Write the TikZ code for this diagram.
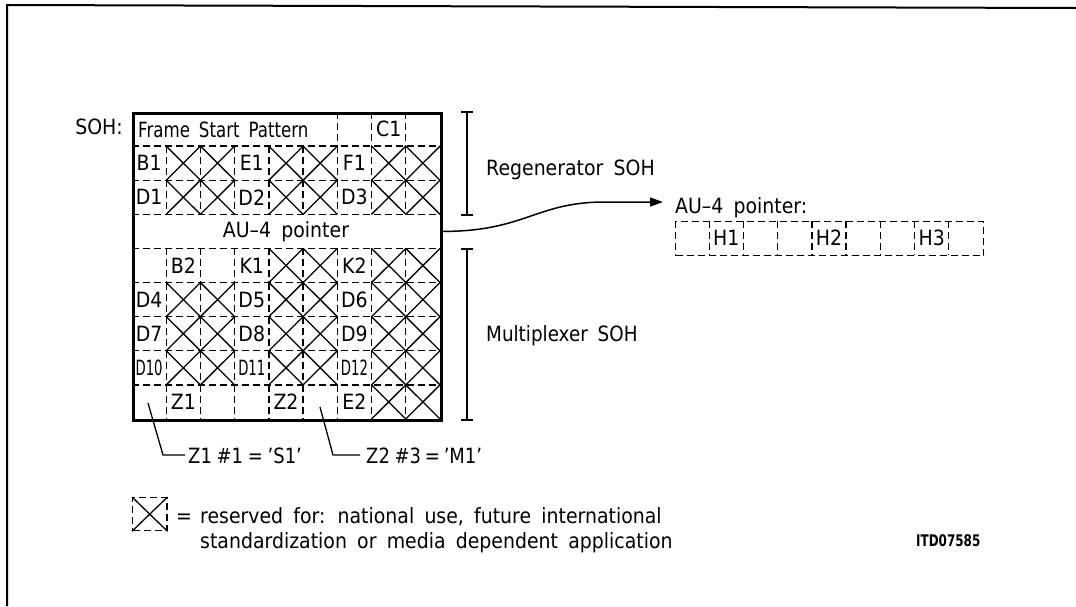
\documentclass[tikz,border=0pt]{standalone}
\usepackage{fontspec}
\setmainfont{DejaVu Sans}[WordSpace=1.7, FakeStretch=0.9]
\usetikzlibrary{arrows.meta}
\begin{document}
\begin{tikzpicture}[x=1pt,y=-1pt,
  txt/.style={font=\fontsize{21}{27}\selectfont, inner sep=0pt},
  dsh/.style={dash pattern=on 7pt off 4pt, line width=1.3pt},
  thinln/.style={line width=1.3pt},
  brk/.style={line width=1.5pt}]
\useasboundingbox (0,0) rectangle (1076,606);
% page frame
\draw[line width=2pt] (7,606) -- (7,5) -- (1076,8);

\def\gxx{132}\def\gyy{112}\def\cww{34.222}\def\rhh{34.111}
% dashed horizontals
\foreach \r in {1,...,8} \draw[dsh] (\gxx,{\gyy+\r*\rhh}) -- ({\gxx+9*\cww},{\gyy+\r*\rhh});
% dashed verticals
\foreach \r in {1,2,4,5,6,7,8} \foreach \c in {1,...,8}
  \draw[dsh] ({\gxx+\c*\cww},{\gyy+\r*\rhh}) -- ++(0,\rhh);
\foreach \c in {6,7,8} \draw[dsh] ({\gxx+\c*\cww},\gyy) -- ++(0,\rhh);
% reserved cells
\foreach \r in {1,2,5,6,7} \foreach \c in {1,2,4,5,7,8}
  \draw[thinln] ({\gxx+\c*\cww},{\gyy+\r*\rhh}) -- ++(\cww,\rhh) ++(-\cww,0) -- ++(\cww,-\rhh);
\foreach \c in {4,5,7,8}
  \draw[thinln] ({\gxx+\c*\cww},{\gyy+4*\rhh}) -- ++(\cww,\rhh) ++(-\cww,0) -- ++(\cww,-\rhh);
\foreach \c in {7,8}
  \draw[thinln] ({\gxx+\c*\cww},{\gyy+8*\rhh}) -- ++(\cww,\rhh) ++(-\cww,0) -- ++(\cww,-\rhh);
% outer frame
\node (frame) [draw, line width=2.8pt, minimum width=308pt, minimum height=307pt, inner sep=0pt, anchor=north west] at (\gxx,\gyy) {};
% AU-4 pointer row
\node (au4) [txt, minimum width=308pt, minimum height=34.1pt] at (286,231.4) {AU–4 pointer};
% cell labels
\foreach \r/\c/\t [count=\k] in {0/7/C1, 1/0/B1, 1/3/E1, 1/6/F1, 2/0/D1, 2/3/D2, 2/6/D3,
   4/1/B2, 4/3/K1, 4/6/K2, 5/0/D4, 5/3/D5, 5/6/D6, 6/0/D7, 6/3/D8, 6/6/D9,
   7/0/{\scalebox{0.7}[1]{D10}}, 7/3/{\scalebox{0.7}[1]{D11}}, 7/6/{\scalebox{0.7}[1]{D12}},
   8/1/Z1, 8/4/Z2, 8/6/E2}
  \node[txt] (cell\k) at ({\gxx+(\c+0.5)*\cww},{\gyy+(\r+0.5)*\rhh}) {\t};
\node[txt, anchor=base west] (fsp) at (138,137) {\scalebox{0.88}[1]{Frame Start Pattern}};
\node[txt, anchor=base east] (soh) at (123,134) {SOH:};

% brackets
\draw[brk] (461,112) -- (473,112) (467,112) -- (467,215) (461,215) -- (473,215);
\draw[brk] (461,249) -- (473,249) (467,249) -- (467,420) (461,420) -- (473,420);
\node[txt, anchor=base west] (regen) at (486,175) {Regenerator SOH};
\node[txt, anchor=base west] (mux) at (486,341) {\scalebox{0.97}[1]{Multiplexer SOH}};

% AU-4 pointer detail
\node[txt, anchor=base west] (aup) at (675,213) {AU–4 pointer:};
\coordinate (tip) at (663,202);
\draw[line width=1.5pt, -{Triangle[length=13pt,width=9pt]}] (au4.east) .. controls (525,232) and (535,202) .. (605,202) -- (tip);
\node (hrow) [draw, dsh, minimum width=308pt, minimum height=34pt, inner sep=0pt, anchor=north west] at (675,221) {};
\foreach \c in {1,...,8} \draw[dsh] ({675+\c*34.222},221) -- ++(0,34);
\foreach \c/\t in {1/H1, 4/H2, 7/H3}
  \node[txt] (h\c) at ({675+(\c+0.5)*34.222},238) {\t};

% leaders
\node[txt, anchor=base west] (n1) at (188,463) {\scalebox{0.95}[1]{Z1\hspace{5pt}\#1\hspace{5pt}=\hspace{5pt}'S1'}};
\coordinate (s1) at (148,403);
\draw[thinln] (s1) -- (163,455) -- ([xshift=-3pt]n1.west |- 0,455);
\node[txt, anchor=base west] (n2) at (366,463) {\scalebox{0.95}[1]{Z2\hspace{5pt}\#3\hspace{4pt}=\hspace{4pt}'M1'}};
\coordinate (s2) at (320,407);
\draw[thinln] (s2) -- (333,455) -- ([xshift=-6pt]n2.west |- 0,455);

% legend
\node (leg) [draw, dsh, minimum width=34.2pt, minimum height=33pt, inner sep=0pt, anchor=north west] at (132,497) {};
\draw[thinln] (leg.north west) -- (leg.south east) (leg.north east) -- (leg.south west);
\node[txt, anchor=base] (eq) at (184,523) {=};
\node[txt, anchor=base west] (lg1) at (200,523) {reserved for: national use, future international};
\node[txt, anchor=base west] (lg2) at (200,548) {standardization or media dependent application};

\node[txt, anchor=base west, font=\fontsize{16}{20}\selectfont\bfseries] (itd) at (916,546) {\scalebox{0.83}[1]{ITD07585}};
\end{tikzpicture}
\end{document}
